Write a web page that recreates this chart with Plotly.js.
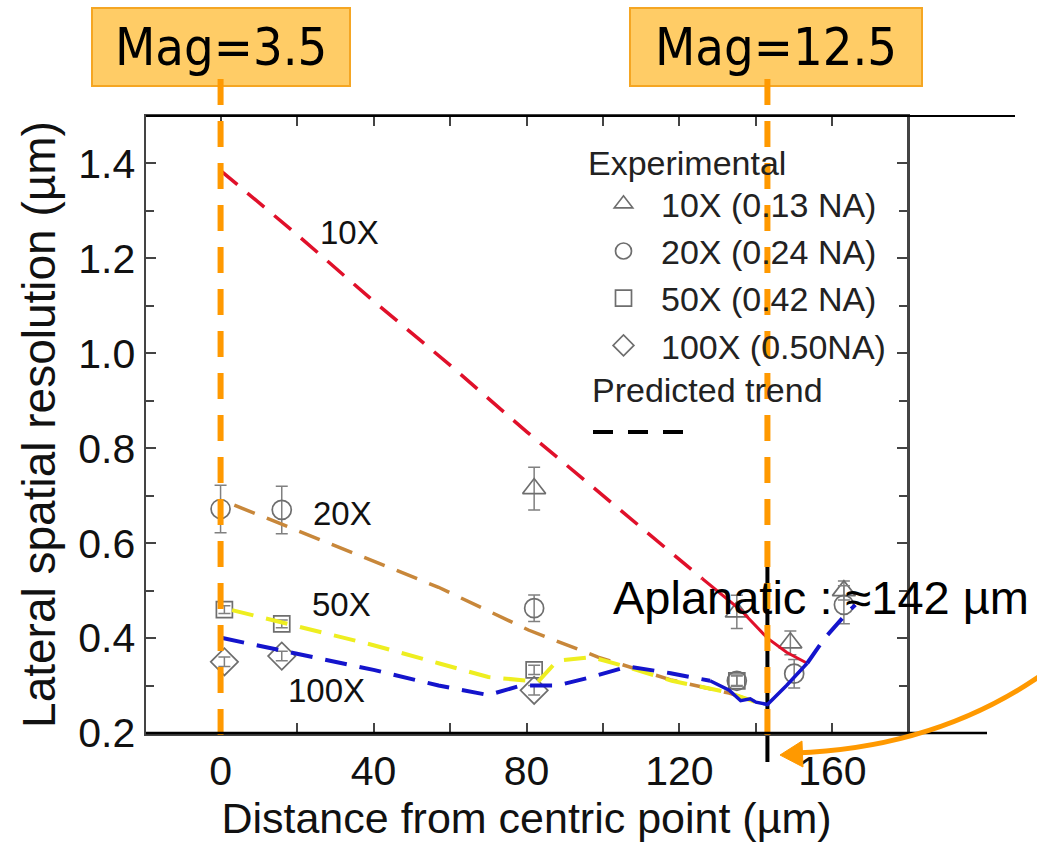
<!DOCTYPE html>
<html><head><meta charset="utf-8">
<script src="https://cdn.plot.ly/plotly-3.0.1.min.js"></script>
<style>html,body{margin:0;padding:0;background:#fff}#chart{width:1037px;height:845px}</style>
</head><body><div id="chart"></div>
<script>
// ---- Experimental data (open gray markers with error bars) ----
const x10 = [82, 135, 149, 163];
const y10 = [0.715, 0.455, 0.39, 0.50];
const e10 = [0.045, 0.035, 0.025, 0.02];
const x20 = [0, 16, 82, 135, 150, 163];
const y20 = [0.672, 0.67, 0.463, 0.31, 0.325, 0.47];
const e20 = [0.05, 0.05, 0.028, 0.012, 0.03, 0.04];
const x50 = [1, 16, 82, 135];
const y50 = [0.46, 0.43, 0.333, 0.31];
const e50 = [0.008, 0.008, 0.01, 0.01];
const x100 = [1, 16, 82];
const y100 = [0.35, 0.362, 0.29];
const e100 = [0.01, 0.01, 0.01];
const expNames = ["10X (0.13 NA)", "20X (0.24 NA)", "50X (0.42 NA)", "100X (0.50NA)"];

// ---- Predicted trends ----
const redDashX = [0, 20, 40, 60, 80, 100, 120, 126];
const redDashY = [1.385, 1.25, 1.11, 0.975, 0.835, 0.70, 0.565, 0.525];
const redSolidX = [126, 136, 143, 148, 153.4];
const redSolidY = [0.525, 0.459, 0.40, 0.37, 0.347];
const orangeX = [3.6, 20, 40, 57, 80.5, 98.7, 117.7, 133, 140];
const orangeY = [0.68, 0.627, 0.562, 0.507, 0.417, 0.36, 0.312, 0.284, 0.265];
const yellowX = [3, 20, 40, 57, 70, 83, 88, 97, 106, 118, 133, 140];
const yellowY = [0.459, 0.425, 0.385, 0.347, 0.318, 0.308, 0.352, 0.36, 0.34, 0.31, 0.285, 0.265];
const blueDashX = [0.5, 20, 40, 57, 70, 78.6, 88, 97, 106.5, 117.7, 128];
const blueDashY = [0.40, 0.367, 0.333, 0.30, 0.28, 0.30, 0.30, 0.318, 0.34, 0.326, 0.31];
const blueSolidX = [128, 133, 136, 138.5, 140, 143, 148, 153.4];
const blueSolidY = [0.31, 0.29, 0.268, 0.272, 0.265, 0.26, 0.30, 0.347];
const blueDash2X = [153.4, 158, 163.8, 166];
const blueDash2Y = [0.347, 0.40, 0.453, 0.47];

// ---- Labels / ticks ----
const trendLabels = ["10X", "20X", "50X", "100X"];
const trendLabelX = [33.6, 31.8, 31.5, 27.6];
const trendLabelY = [1.255, 0.663, 0.47, 0.29];
const xTickVals = [0, 40, 80, 120, 160];
const yTickVals = [0.2, 0.4, 0.6, 0.8, 1.0, 1.2, 1.4];
const magLabels = ["Mag=3.5", "Mag=12.5"];
const magX = [0, 143];
const aplanaticX = 143;
const aplanaticText = "Aplanatic : \u2248142 \u00b5m";

const XR = [-19.5, 179.5], YR = [0.2, 1.5];
const px = v => (v - XR[0]) / (XR[1] - XR[0]);   // data x -> paper x

const F = "Liberation Sans, Arial, sans-serif";
const FC = "DejaVu Sans Condensed, Liberation Sans Narrow, Liberation Sans, sans-serif";
const gray = "#6e6e6e";

function expTrace(x, y, e, sym, name, size) {
  return {x: x, y: y, type: "scatter", mode: "markers", name: name,
    marker: {symbol: sym, size: size, color: gray, line: {color: gray, width: 1.7}},
    error_y: {type: "data", array: e, visible: true, color: "#808080", thickness: 1.5, width: 6},
    showlegend: true};
}
function lineTrace(x, y, color, w, dash) {
  return {x: x, y: y, type: "scatter", mode: "lines", showlegend: false, hoverinfo: "skip",
    line: {color: color, width: w, dash: dash}};
}
const D = "22px,13px";
const traces = [
  expTrace(x10, y10, e10, "triangle-up-open", expNames[0], 20),
  expTrace(x20, y20, e20, "circle-open", expNames[1], 19),
  expTrace(x50, y50, e50, "square-open", expNames[2], 16),
  expTrace(x100, y100, e100, "diamond-open", expNames[3], 21),
  lineTrace(redDashX, redDashY, "#E0102A", 3.5, D),
  lineTrace(redSolidX, redSolidY, "#E0102A", 3, "solid"),
  lineTrace(orangeX, orangeY, "#C8873A", 3.5, D),
  lineTrace(yellowX, yellowY, "#EEEE20", 4, D),
  lineTrace(blueDashX, blueDashY, "#1414CC", 4, D),
  lineTrace(blueSolidX, blueSolidY, "#1414CC", 3.5, "solid"),
  lineTrace(blueDash2X, blueDash2Y, "#1414CC", 4, D)
];

// pixel helpers for layout-only decorations (plot area 146..907 x 116..733)
const L = 146, T = 116, W = 761, H = 617;
const ppx = p => (p - L) / W, ppy = p => (T + H - p) / H;

const shapes = [];
// Mag boxes
[[92, 350], [630, 922]].forEach(b => shapes.push({type: "rect", xref: "paper", yref: "paper",
  x0: ppx(b[0]), x1: ppx(b[1]), y0: ppy(86), y1: ppy(8), fillcolor: "#FFCC66",
  line: {color: "#F5A623", width: 2}, layer: "above"}));
// orange dashed vertical markers
magX.forEach(v => shapes.push({type: "line", xref: "paper", yref: "paper",
  x0: px(v), x1: px(v), y0: ppy(735), y1: ppy(76), line: {color: "#FF9900", width: 6, dash: "26px,16px"}, layer: "above"}));
// black aplanatic line
shapes.push({type: "line", xref: "paper", yref: "paper", x0: px(aplanaticX), x1: px(aplanaticX),
  y0: ppy(762), y1: ppy(553), line: {color: "#000", width: 4}, layer: "below"});
// extended frame lines
shapes.push({type: "line", xref: "paper", yref: "paper", x0: 0, x1: ppx(1015), y0: 1, y1: 1, line: {color: "#000", width: 2}});
shapes.push({type: "line", xref: "paper", yref: "paper", x0: 0, x1: ppx(987), y0: 0, y1: 0, line: {color: "#000", width: 2.5}});
// predicted-trend legend sample
shapes.push({type: "line", xref: "paper", yref: "paper", x0: ppx(593), x1: ppx(690), y0: ppy(432), y1: ppy(432),
  line: {color: "#000", width: 4, dash: "20px,15px"}});
// orange curved arrow
const f = (a, b) => ppx(a).toFixed(4) + "," + ppy(b).toFixed(4);
shapes.push({type: "path", xref: "paper", yref: "paper",
  path: "M" + f(1040, 676) + " Q" + f(935, 748) + " " + f(795, 753),
  line: {color: "#FF9900", width: 5}});
shapes.push({type: "path", xref: "paper", yref: "paper",
  path: "M" + f(780, 755) + " L" + f(802, 741) + " L" + f(803, 767) + " Z",
  fillcolor: "#FF9900", line: {color: "#FF9900", width: 1}});

const annotations = [];
trendLabels.forEach((t, i) => annotations.push({x: trendLabelX[i], y: trendLabelY[i], xref: "x", yref: "y",
  xanchor: "center", yanchor: "middle",
  text: t, showarrow: false, font: {family: F, size: 33, color: "#111"}}));
magLabels.forEach((t, i) => annotations.push({x: [ppx(221), ppx(776)][i], y: ppy(47), xref: "paper", yref: "paper",
  xanchor: "center", yanchor: "middle",
  text: t, showarrow: false, font: {family: FC, size: 52, color: "#000"}}));
annotations.push({x: ppx(611), y: ppy(597), xref: "paper", yref: "paper", xanchor: "left", yanchor: "middle",
  text: aplanaticText, showarrow: false, font: {family: F, size: 47, color: "#000"}});
annotations.push({x: ppx(590), y: ppy(390), xref: "paper", yref: "paper", xanchor: "left", yanchor: "middle",
  text: "Predicted trend", showarrow: false, font: {family: F, size: 34, color: "#222"}});

const axisCommon = {showgrid: false, zeroline: false, showline: true, linecolor: "#444", linewidth: 2.5,
  mirror: "ticks", ticks: "inside", ticklen: 10, tickwidth: 2, tickcolor: "#444",
  tickfont: {family: F, size: 41, color: "#111"}};

const layout = {
  width: 1037, height: 845, paper_bgcolor: "#fff", plot_bgcolor: "#fff",
  margin: {l: L, r: 1037 - L - W, t: T, b: 845 - T - H},
  xaxis: Object.assign({}, axisCommon, {range: XR, tickvals: xTickVals,
    minor: {dtick: 20, tick0: 0, ticks: "inside", ticklen: 10, tickwidth: 2, tickcolor: "#444"},
    title: {text: "Distance from centric point (\u00b5m)", font: {family: F, size: 43, color: "#111"}, standoff: 0}}),
  yaxis: Object.assign({}, axisCommon, {range: YR, tickvals: yTickVals, tickformat: ".1f",
    minor: {dtick: 0.1, tick0: 0.2, ticks: "inside", ticklen: 8, tickwidth: 2, tickcolor: "#444"},
    title: {text: "Lateral spatial resolution (\u00b5m)", font: {family: F, size: 46, color: "#111"}, standoff: 8}}),
  showlegend: true,
  legend: {x: ppx(586), y: ppy(131), xanchor: "left", yanchor: "top", bgcolor: "rgba(0,0,0,0)",
    font: {family: F, size: 34, color: "#222"}, itemwidth: 65, tracegroupgap: 0,
    title: {text: "Experimental", font: {family: F, size: 34, color: "#222"}}},
  shapes: shapes, annotations: annotations
};

Plotly.newPlot("chart", traces, layout, {displayModeBar: false, staticPlot: true});
</script>
</body></html>
